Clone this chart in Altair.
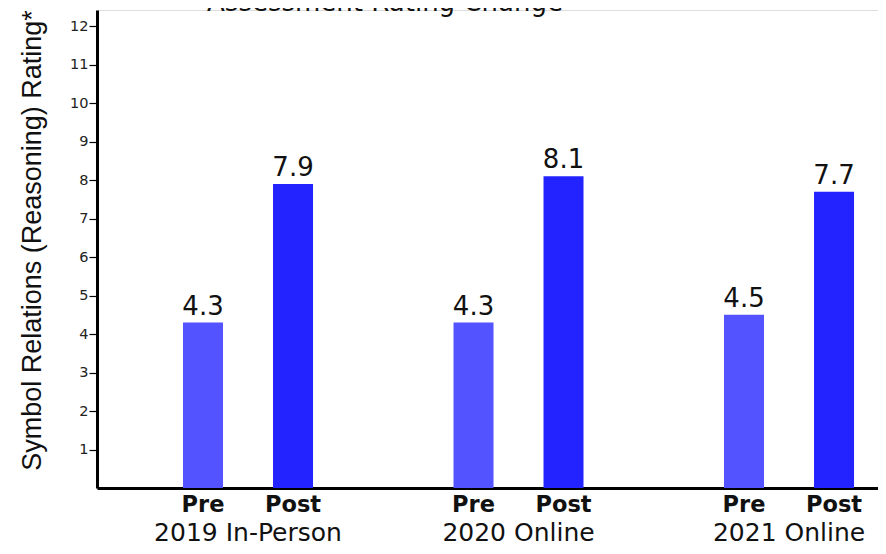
import altair as alt
import pandas as pd

# ---- data ----
groups = ["2019 In-Person", "2020 Online", "2021 Online"]
phases = ["Pre", "Post"]
pre_values = [4.3, 4.3, 4.5]
post_values = [7.9, 8.1, 7.7]
y_ticks = [1, 2, 3, 4, 5, 6, 7, 8, 9, 10, 11, 12]
colors = ["#5353FF", "#2323FF"]
title_text = ["Assessment Rating Change"]
y_title = "Symbol Relations (Reasoning) Rating*"

rows = []
for g, pre, post in zip(groups, pre_values, post_values):
    rows.append({"group": g, "phase": "Pre", "value": pre})
    rows.append({"group": g, "phase": "Post", "value": post})
df = pd.DataFrame(rows)

W, H = 781, 478
Y_MAX = 12.42

x_enc = alt.X(
    "group:N",
    sort=groups,
    scale=alt.Scale(paddingInner=0.5194, paddingOuter=0.2033, align=0.782),
    axis=alt.Axis(labels=False, ticks=False, title=None, domainColor="black",
                  domainWidth=3, grid=False),
)
xoff_enc = alt.XOffset(
    "phase:N", sort=phases,
    scale=alt.Scale(paddingInner=0.5556, paddingOuter=0),
)
y_enc = alt.Y(
    "value:Q",
    scale=alt.Scale(domain=[0, Y_MAX], nice=False, zero=True),
    axis=alt.Axis(
        values=y_ticks, grid=False, domainColor="black", domainWidth=3,
        tickColor="black", tickSize=8, tickWidth=1.2,
        labelFont="DejaVu Sans", labelFontSize=14.5, labelColor="#222",
        labelPadding=1,
        title=y_title, titleFont="Liberation Sans",
        titleFontSize=27, titleFontWeight="normal", titleColor="#111",
        titleAngle=270, titleAlign="center", titleBaseline="alphabetic",
        titleX=-57, titleY=230, titleLimit=600,
    ),
)

base = alt.Chart(df)

bars = base.mark_bar(size=40).encode(
    x=x_enc,
    xOffset=xoff_enc,
    y=y_enc,
    color=alt.Color("phase:N", sort=phases,
                    scale=alt.Scale(domain=phases, range=colors), legend=None),
)

value_labels = base.mark_text(
    font="DejaVu Sans", fontSize=26, baseline="alphabetic", dy=-8, color="#111"
).encode(
    x=alt.X("group:N", sort=groups),
    xOffset=alt.XOffset("phase:N", sort=phases),
    y="value:Q",
    text=alt.Text("value:Q", format=".1f"),
)

phase_labels = base.mark_text(
    font="DejaVu Sans", fontSize=22.5, fontWeight="bold", baseline="alphabetic",
    color="#111"
).encode(
    x=alt.X("group:N", sort=groups),
    xOffset=alt.XOffset("phase:N", sort=phases),
    y=alt.value(H + 24),
    text="phase:N",
)

group_labels = alt.Chart(pd.DataFrame({"group": groups})).mark_text(
    font="DejaVu Sans", fontSize=25, baseline="alphabetic", color="#111"
).encode(
    x=alt.X("group:N", sort=groups),
    y=alt.value(H + 53),
    text="group:N",
)

title_mark = alt.Chart(pd.DataFrame({"t": title_text})).mark_text(
    font="DejaVu Sans", fontSize=26, baseline="alphabetic", align="center",
    color="#111"
).encode(
    x=alt.value(288),
    y=alt.value(1),
    text="t:N",
)

chart = alt.layer(bars, value_labels, phase_labels, group_labels, title_mark).properties(
    width=W,
    height=H,
    autosize=alt.AutoSizeParams(type="none"),
    padding={"left": 89, "top": 2, "right": 0, "bottom": 58},
).configure_view(stroke="transparent", strokeWidth=0).configure(background="white")

chart.save("out.html", embed_options={"renderer": "svg", "actions": False})
